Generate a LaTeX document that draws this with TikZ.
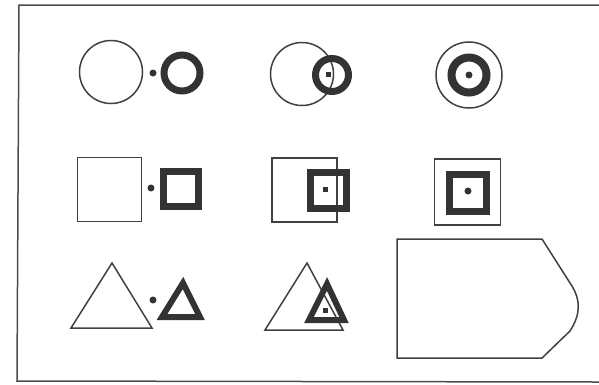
\documentclass[tikz,border=0pt]{standalone}
\usepackage{tikz}
\usetikzlibrary{positioning}

\tikzset{
  outline/.style={draw=black!75, line width=1.5pt, inner sep=0pt},
  ring/.style={draw=black!80, line width=7pt, inner sep=0pt},
  spot/.style={fill=black!80, inner sep=0pt, minimum size=7pt}
}

\begin{document}
\begin{tikzpicture}[x=1pt, y=-1pt]
  \useasboundingbox (0,0) rectangle (599,384);
  % frame, open at the right
  \draw[black!70, line width=1.5pt] (599,5) -- (19,5) -- (17,381) -- (599,382);

  % circles
  \node[outline, circle, minimum size=63pt] (c1) at (111,72) {};
  \node[spot, circle] (c1dot) at (153,73) {};
  \node[ring, circle, minimum size=36pt] (c1ring) at (182,73) {};

  \node[outline, circle, minimum size=63pt] (c2) at (302,74) {};
  \node[ring, circle, minimum size=33pt] (c2ring) at (332,75) {};
  \node[spot, minimum size=5pt] (c2dot) at (328,74) {};

  \node[outline, circle, minimum size=66pt] (c3) at (469,75) {};
  \node[ring, circle, line width=8pt, minimum size=35pt] (c3ring) at (469,75) {};
  \node[spot, circle] (c3dot) at (469,75) {};

  % squares
  \node[outline, minimum size=64pt] (s1) at (109.5,189.5) {};
  \node[spot, circle] (s1dot) at (151,188) {};
  \node[ring, minimum size=35pt] (s1ring) at (181,189) {};

  \node[outline, minimum width=65pt, minimum height=64pt] (s2) at (304.5,190) {};
  \node[ring, minimum size=36pt] (s2ring) at (328,190.5) {};
  \node[spot, minimum size=5pt] (s2dot) at (325,189) {};

  \node[outline, minimum size=66pt] (s3) at (467.5,192) {};
  \node[ring, minimum size=37pt] (s3ring) at (467.5,192.5) {};
  \node[spot, circle] (s3dot) at (468,191) {};

  % triangles
  \draw[black!75, line width=1.5pt, line join=miter] (112,263) -- (71,328) -- (152,328) -- cycle;
  \node[spot, circle] (t1dot) at (153,300) {};
  \draw[black!80, line width=6pt, line join=miter] (183,283) -- (162,317) -- (200,317) -- cycle;

  \draw[black!75, line width=1.5pt, line join=miter] (307,263) -- (265,330) -- (343,330) -- cycle;
  \draw[black!80, line width=6pt, line join=miter] (327,284) -- (309,320) -- (344,320) -- cycle;
  \node[spot, minimum size=5pt] (t2dot) at (325,310) {};

  % tag shape
  \draw[black!75, line width=1.5pt] (397,239) -- (542,239) -- (570,283)
    .. controls (581,299) and (581,314) .. (570,331) -- (542,358) -- (397,358) -- cycle;
\end{tikzpicture}
\end{document}
